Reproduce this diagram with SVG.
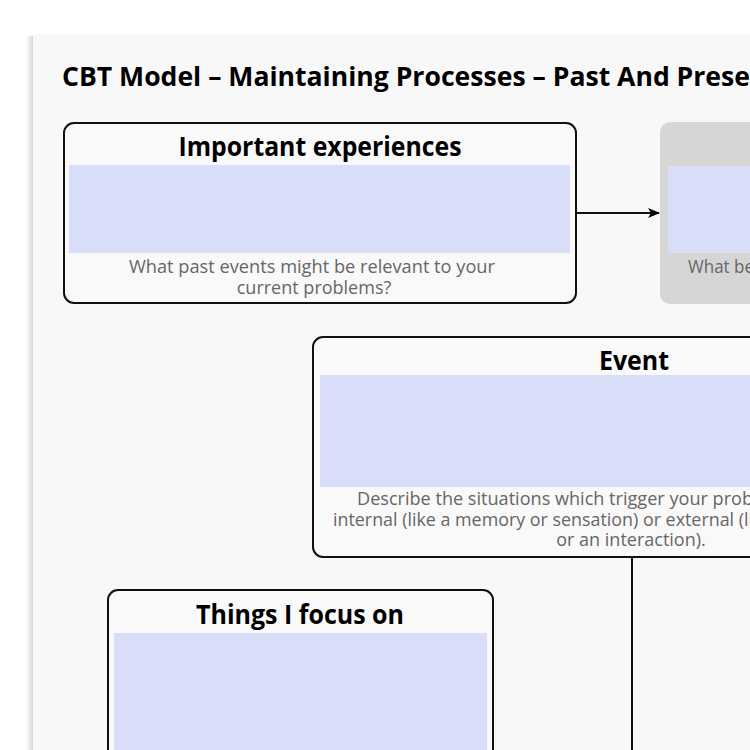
<svg xmlns="http://www.w3.org/2000/svg" width="750" height="750" viewBox="0 0 750 750">
<defs>
<linearGradient id="shadow" x1="0" y1="0" x2="1" y2="0">
<stop offset="0" stop-color="#ffffff"/>
<stop offset="1" stop-color="#d4d4d4"/>
</linearGradient>
<marker id="arr" markerWidth="12" markerHeight="10" refX="11" refY="5" orient="auto" markerUnits="userSpaceOnUse">
<path d="M0,0 L12,5 L0,10 L3,5 Z" fill="#000"/>
</marker>
<style>
.box{fill:#f9f9f9;stroke:#111;stroke-width:2}
.grey{fill:#d6d6d6;stroke:none}
.blue{fill:#d8def8}
.head{font-family:"Open Sans","Liberation Sans",sans-serif;font-weight:bold;font-size:26px;fill:#000;text-anchor:middle}
.hint{font-family:"Open Sans","Liberation Sans",sans-serif;font-size:18px;fill:#666}
.title{font-family:"Open Sans","Liberation Sans",sans-serif;font-weight:bold;font-size:27px;fill:#000}
.conn{stroke:#111;stroke-width:2;fill:none}
</style>
</defs>
<rect width="750" height="750" fill="#ffffff"/>
<rect x="26" y="36" width="8" height="714" fill="url(#shadow)"/>
<rect x="33" y="34" width="717" height="716" fill="#f8f8f8"/>
<text class="title" x="62" y="86" textLength="688" lengthAdjust="spacingAndGlyphs">CBT Model – Maintaining Processes – Past And Prese</text>

<g id="connectors">
<line class="conn" x1="577" y1="213" x2="659" y2="213" marker-end="url(#arr)"/>
<line class="conn" x1="632" y1="557" x2="632" y2="750"/>
</g>

<g id="important-experiences">
<rect class="box" x="64" y="123" width="512" height="180" rx="10"/>
<text class="head" x="320" y="156" textLength="283" lengthAdjust="spacingAndGlyphs">Important experiences</text>
<rect class="blue" x="69" y="165" width="501" height="88"/>
<text class="hint" x="312" y="273" text-anchor="middle" textLength="366" lengthAdjust="spacingAndGlyphs">What past events might be relevant to your</text>
<text class="hint" x="314" y="294" text-anchor="middle">current problems?</text>
</g>

<g id="beliefs">
<rect class="grey" x="660" y="122" width="200" height="182" rx="10"/>
<rect class="blue" x="668" y="166" width="190" height="87"/>
<text class="hint" x="688" y="273" textLength="66" lengthAdjust="spacingAndGlyphs">What be</text>
</g>

<g id="event">
<rect class="box" x="313" y="337" width="640" height="220" rx="10"/>
<text class="head" x="634" y="370" textLength="70" lengthAdjust="spacingAndGlyphs">Event</text>
<rect class="blue" x="320" y="375" width="630" height="112"/>
<text class="hint" x="357" y="505" textLength="396" lengthAdjust="spacingAndGlyphs">Describe the situations which trigger your prob</text>
<text class="hint" x="333" y="526" textLength="420" lengthAdjust="spacingAndGlyphs">internal (like a memory or sensation) or external (li</text>
<text class="hint" x="631" y="546" text-anchor="middle">or an interaction).</text>
</g>

<g id="things-i-focus-on">
<rect class="box" x="108" y="590" width="385" height="200" rx="10"/>
<text class="head" x="300" y="624" textLength="208" lengthAdjust="spacingAndGlyphs">Things I focus on</text>
<rect class="blue" x="114" y="633" width="373" height="150"/>
</g>
</svg>
